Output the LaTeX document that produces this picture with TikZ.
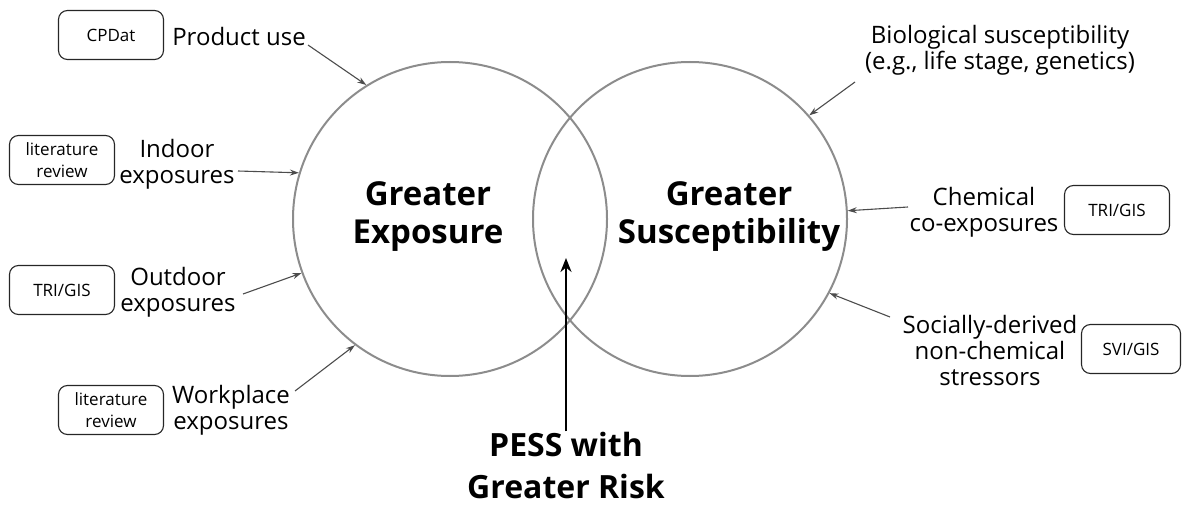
\documentclass[tikz,border=0pt]{standalone}
\usepackage{fontspec}
\setmainfont{Open Sans}
\usetikzlibrary{arrows.meta}
\tikzset{
  venn/.style={draw=gray!90,line width=2pt,circle,minimum size=314pt,inner sep=0pt},
  src/.style={draw=black!85,line width=1.1pt,rounded corners=9pt,minimum width=105pt,minimum height=49pt,font=\fontsize{17}{22}\selectfont,align=center,inner sep=0pt},
  lbl/.style={align=center,font=\fontsize{24}{26}\selectfont,inner sep=1pt},
  big/.style={align=center,font=\fontsize{33}{38}\selectfont\bfseries,inner sep=0pt},
  feed/.style={draw=black!70,line width=1.1pt,-{Stealth[length=9pt,width=6pt]}}
}
\begin{document}
\begin{tikzpicture}[x=1pt,y=-1pt]
    \useasboundingbox (0,0) rectangle (1183,508);

    \node[venn] at (450,219)   (expo)  {};
    \node[venn] at (690,219)   (susc)  {};
    \node[big]  at (428,217)   (expo-t)  {Greater\\Exposure};
    \node[big]  at (729,217)   (susc-t)  {Greater\\Susceptibility};
    \node[big,font=\fontsize{32}{42}\selectfont\bfseries]  at (566,465)   (pess)  {PESS with\\Greater Risk};
    \coordinate (pess-tip) at (566,258);

    \node[src] at (111,35)     (cpdat)  {CPDat};
    \node[src] at (62,160)     (lit1)  {literature\\review};
    \node[src] at (62,290)     (tri1)  {TRI/GIS};
    \node[src] at (111,410)    (lit2)  {literature\\review};
    \node[src] at (1117,210)   (tri2)  {TRI/GIS};
    \node[src,minimum width=99pt] at (1131,349)   (svi)  {SVI/GIS};

    \node[lbl] at (239,37)     (prod)  {Product use};
    \node[lbl] at (177,164)    (indoor)  {Indoor\\exposures};
    \node[lbl] at (178,292)    (outdoor)  {Outdoor\\exposures};
    \node[lbl] at (231,410)    (work)  {Workplace\\exposures};
    \node[lbl] at (1000,50)    (bio)  {Biological susceptibility\\(e.g., life stage, genetics)};
    \node[lbl] at (984,212)    (chem)  {Chemical\\co-exposures};
    \node[lbl] at (990,350)    (social)  {Socially-derived\\non-chemical\\stressors};

    \draw[feed] (308,45) -- (expo.122.5);
    \draw[feed] (238,171) -- (expo.163.5);
    \draw[feed] (243,294) -- (expo.200);
    \draw[feed] (295,391) -- (expo.233.6);
    \draw[feed] (855,82) -- (susc.41.7);
    \draw[feed] (908,207) -- (susc.3.6);
    \draw[feed] (890,317) -- (susc.-28.5);

    \draw[line width=2.2pt,-{Stealth[length=14pt,width=11pt]}] (pess.north) -- (pess-tip);
\end{tikzpicture}
\end{document}
